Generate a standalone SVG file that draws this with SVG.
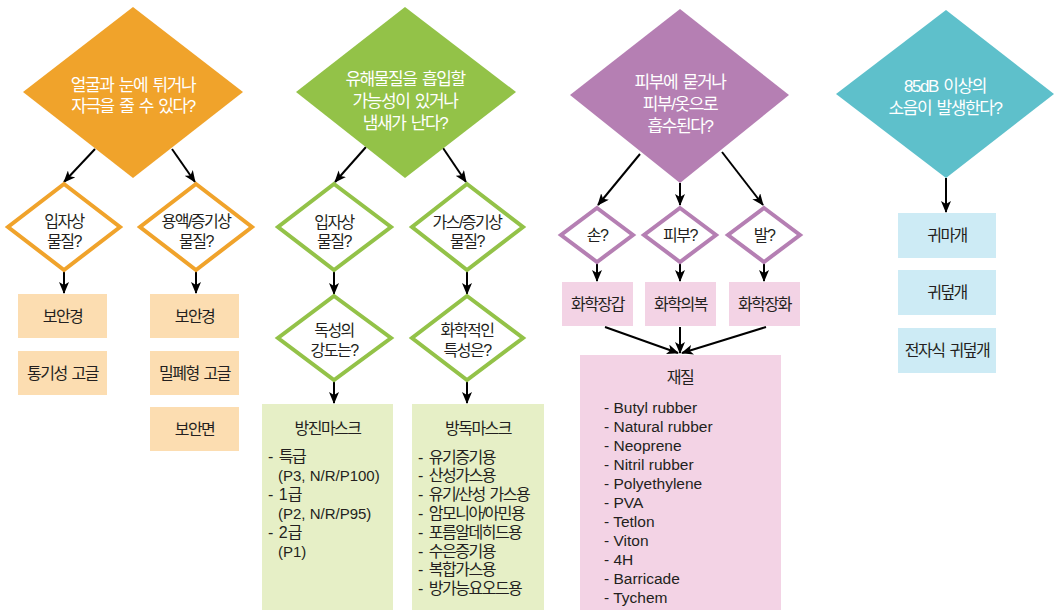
<svg xmlns="http://www.w3.org/2000/svg" width="1054" height="610" viewBox="0 0 1054 610">
<style>
text{font-family:"Liberation Sans","Noto Sans CJK KR",sans-serif;fill:#231f20;font-size:16px;letter-spacing:-1.5px;word-spacing:2px}
.w{fill:#fff;font-size:17px;letter-spacing:-1.4px;text-anchor:middle}
.c{text-anchor:middle}
.d{letter-spacing:0;word-spacing:1px}
.lat{letter-spacing:0;word-spacing:0;font-size:15px}
.lp{letter-spacing:0;word-spacing:0;font-size:15.5px}
.od{fill:#F0A32B}.os{fill:#fff;stroke:#F0A32B;stroke-width:4}.ob{fill:#FCDDB1}
.gd{fill:#93C248}.gs{fill:#fff;stroke:#93C248;stroke-width:4}.gb{fill:#E6EFC6}
.pd{fill:#B57FB3}.ps{fill:#fff;stroke:#B57FB3;stroke-width:4}.pb{fill:#F3D3E5}
.cd{fill:#5EC0CB}.cb{fill:#CDEBF5}
.ln{stroke:#000;stroke-width:2;fill:none;marker-end:url(#ah)}
</style>
<defs>
<marker id="ah" viewBox="0 0 12 10" refX="11" refY="5" markerWidth="12" markerHeight="10" markerUnits="userSpaceOnUse" orient="auto">
<path d="M0,0 L12,5 L0,10 L3,5 z" fill="#000"/>
</marker>
</defs>
<rect width="1054" height="610" fill="#fff"/>
<g id="connectors">
<line class="ln" x1="95" y1="149" x2="64" y2="182"/>
<line class="ln" x1="172" y1="149" x2="195" y2="182"/>
<line class="ln" x1="64" y1="270" x2="64" y2="293"/>
<line class="ln" x1="196" y1="270" x2="196" y2="293"/>
<line class="ln" x1="366" y1="147" x2="335" y2="182"/>
<line class="ln" x1="443" y1="148" x2="466" y2="182"/>
<line class="ln" x1="334" y1="270" x2="334" y2="294"/>
<line class="ln" x1="467" y1="270" x2="467" y2="294"/>
<line class="ln" x1="334" y1="380" x2="334" y2="403"/>
<line class="ln" x1="467" y1="380" x2="467" y2="403"/>
<line class="ln" x1="640" y1="154" x2="598" y2="205"/>
<line class="ln" x1="680" y1="183" x2="680" y2="205"/>
<line class="ln" x1="722" y1="152" x2="763" y2="205"/>
<line class="ln" x1="597" y1="262" x2="597" y2="281"/>
<line class="ln" x1="680" y1="262" x2="680" y2="281"/>
<line class="ln" x1="764" y1="262" x2="764" y2="281"/>
<line class="ln" x1="605" y1="327" x2="678" y2="353"/>
<line class="ln" x1="680" y1="327" x2="680" y2="353"/>
<line class="ln" x1="766" y1="327" x2="682" y2="353"/>
<line class="ln" x1="946" y1="178" x2="946" y2="212"/>
</g>
<g id="eye-q">
<polygon class="od" points="133,7 243,92 133,178 23,92"/>
<text class="w" x="133" y="90.5">얼굴과 눈에 튀거나</text>
<text class="w" x="133" y="111.5">자극을 줄 수 있다?</text>
</g>
<g id="eye-particle">
<polygon class="os" points="64,184 120,227 64,270 8,227"/>
<text class="c" x="64" y="227">입자상</text>
<text class="c" x="64" y="247">물질?</text>
</g>
<g id="eye-vapor">
<polygon class="os" points="196,184 252,227 196,270 140,227"/>
<text class="c" x="196" y="227">용액/증기상</text>
<text class="c" x="196" y="247">물질?</text>
</g>
<g id="eye-box1"><rect class="ob" x="18" y="294" width="89" height="44"/><text class="c" x="62.5" y="322">보안경</text></g>
<g id="eye-box2"><rect class="ob" x="18" y="351" width="89" height="44"/><text class="c" x="62.5" y="379">통기성 고글</text></g>
<g id="eye-box3"><rect class="ob" x="150" y="294" width="89" height="44"/><text class="c" x="194.5" y="322">보안경</text></g>
<g id="eye-box4"><rect class="ob" x="150" y="351" width="89" height="44"/><text class="c" x="194.5" y="379">밀폐형 고글</text></g>
<g id="eye-box5"><rect class="ob" x="150" y="407" width="89" height="44"/><text class="c" x="194.5" y="435">보안면</text></g>

<g id="resp-q">
<polygon class="gd" points="405,7 516,92 405,178 296,92"/>
<text class="w" x="405" y="84.5">유해물질을 흡입할</text>
<text class="w" x="405" y="106.5">가능성이 있거나</text>
<text class="w" x="405" y="128.5">냄새가 난다?</text>
</g>
<g id="resp-particle">
<polygon class="gs" points="334,184 391,227 334,270 278,227"/>
<text class="c" x="334" y="228">입자상</text>
<text class="c" x="334" y="247">물질?</text>
</g>
<g id="resp-gas">
<polygon class="gs" points="467,184 523,227 467,270 412,227"/>
<text class="c" x="467" y="228">가스/증기상</text>
<text class="c" x="467" y="247">물질?</text>
</g>
<g id="resp-tox">
<polygon class="gs" points="334,296 391,338 334,380 278,338"/>
<text class="c" x="334" y="336">독성의</text>
<text class="c" x="334" y="356">강도는?</text>
</g>
<g id="resp-chem">
<polygon class="gs" points="467,296 523,338 467,380 412,338"/>
<text class="c" x="467" y="336">화학적인</text>
<text class="c" x="467" y="356">특성은?</text>
</g>
<g id="resp-dust">
<rect class="gb" x="262" y="404" width="131" height="206"/>
<text class="c" x="327.5" y="434">방진마스크</text>
<text x="268" y="461.5"><tspan class="d">- </tspan>특급</text>
<text class="lat" x="278" y="480.5">(P3, N/R/P100)</text>
<text x="268" y="499.5"><tspan class="d">- 1</tspan>급</text>
<text class="lat" x="278" y="518.5">(P2, N/R/P95)</text>
<text x="268" y="537.5"><tspan class="d">- 2</tspan>급</text>
<text class="lat" x="278" y="556.5">(P1)</text>
</g>
<g id="resp-gasmask">
<rect class="gb" x="412" y="404" width="132" height="206"/>
<text class="c" x="478" y="434">방독마스크</text>
<text x="418" y="462.5"><tspan class="d">- </tspan>유기증기용</text>
<text x="418" y="481.3"><tspan class="d">- </tspan>산성가스용</text>
<text x="418" y="500.1"><tspan class="d">- </tspan>유기/산성 가스용</text>
<text x="418" y="518.9"><tspan class="d">- </tspan>암모니아/아민용</text>
<text x="418" y="537.7"><tspan class="d">- </tspan>포름알데히드용</text>
<text x="418" y="556.5"><tspan class="d">- </tspan>수은증기용</text>
<text x="418" y="575.3"><tspan class="d">- </tspan>복합가스용</text>
<text x="418" y="594.1"><tspan class="d">- </tspan>방가능요오드용</text>
</g>

<g id="skin-q">
<polygon class="pd" points="680,9 789,95 680,183 570,95"/>
<text class="w" x="680" y="87.5">피부에 묻거나</text>
<text class="w" x="680" y="109.5">피부/옷으로</text>
<text class="w" x="680" y="131.5">흡수된다?</text>
</g>
<g id="skin-hand"><polygon class="ps" points="597,208 633,235 597,262 561,235"/><text class="c" x="597" y="241">손?</text></g>
<g id="skin-body"><polygon class="ps" points="680,208 716,235 680,262 644,235"/><text class="c" x="680" y="241">피부?</text></g>
<g id="skin-foot"><polygon class="ps" points="764,208 800,235 764,262 728,235"/><text class="c" x="764" y="241">발?</text></g>
<g id="skin-box1"><rect class="pb" x="562" y="282" width="71" height="44"/><text class="c" x="597.5" y="310">화학장갑</text></g>
<g id="skin-box2"><rect class="pb" x="645" y="282" width="71" height="44"/><text class="c" x="680.5" y="310">화학의복</text></g>
<g id="skin-box3"><rect class="pb" x="729" y="282" width="71" height="44"/><text class="c" x="764.5" y="310">화학장화</text></g>
<g id="skin-material">
<rect class="pb" x="580" y="355" width="201" height="255"/>
<text class="c" x="680" y="383">재질</text>
<text class="lp" x="604" y="412.5">- Butyl rubber</text>
<text class="lp" x="604" y="431.5">- Natural rubber</text>
<text class="lp" x="604" y="450.5">- Neoprene</text>
<text class="lp" x="604" y="469.5">- Nitril rubber</text>
<text class="lp" x="604" y="488.5">- Polyethylene</text>
<text class="lp" x="604" y="507.5">- PVA</text>
<text class="lp" x="604" y="526.5">- Tetlon</text>
<text class="lp" x="604" y="545.5">- Viton</text>
<text class="lp" x="604" y="564.5">- 4H</text>
<text class="lp" x="604" y="583.5">- Barricade</text>
<text class="lp" x="604" y="602.5">- Tychem</text>
</g>

<g id="noise-q">
<polygon class="cd" points="946,10 1054,94 946,178 836,94"/>
<text class="w" x="945" y="91.5">85dB 이상의</text>
<text class="w" x="945" y="113.5">소음이 발생한다?</text>
</g>
<g id="noise-box1"><rect class="cb" x="898" y="213" width="98" height="45"/><text class="c" x="947" y="241">귀마개</text></g>
<g id="noise-box2"><rect class="cb" x="898" y="270" width="98" height="45"/><text class="c" x="947" y="298">귀덮개</text></g>
<g id="noise-box3"><rect class="cb" x="898" y="328" width="98" height="45"/><text class="c" x="947" y="356">전자식 귀덮개</text></g>
</svg>
